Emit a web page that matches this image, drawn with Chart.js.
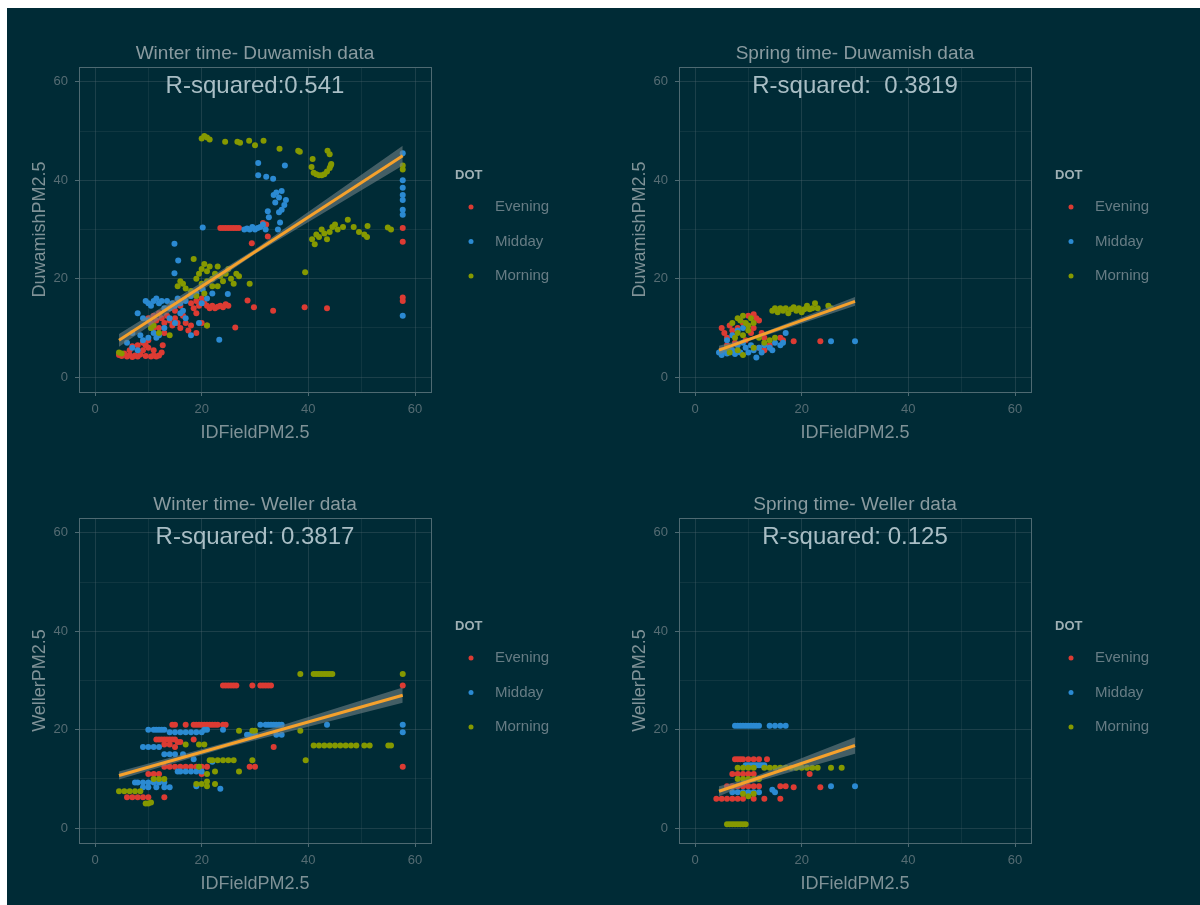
<!DOCTYPE html>
<html>
<head>
<meta charset="utf-8">
<title>IDField vs Duwamish / Weller PM2.5</title>
<script src="https://cdn.jsdelivr.net/npm/chart.js@4.4.1/dist/chart.umd.min.js"></script>
<style>
  html, body { margin: 0; padding: 0; background: #ffffff; }
  #page { position: absolute; left: 7px; top: 8px; width: 1193px; height: 897px; background: #002b36; }
  canvas { position: absolute; }
</style>
</head>
<body>
<div id="page"></div>
<canvas id="winterDuw" width="600" height="451" style="left:0px;top:0px"></canvas>
<canvas id="springDuw" width="600" height="451" style="left:600px;top:0px"></canvas>
<canvas id="winterWel" width="600" height="451" style="left:0px;top:451px"></canvas>
<canvas id="springWel" width="600" height="451" style="left:600px;top:451px"></canvas>
<script>
// ---- data ----
var groups = ['Evening', 'Midday', 'Morning'];
var axisTicks = [0, 10, 20, 30, 40, 50, 60];
var labelTicks = [0, 20, 40, 60];

// Winter time - Duwamish
var winterDuwEvening = [[23.5,30.3],[24,30.3],[24.5,30.3],[25,30.3],[25.5,30.3],[26,30.3],[26.5,30.3],[27,30.3],
  [32.1,31],[31.5,31.3],[32.4,28.6],[29.4,27.2],[57.7,30.3],[57.7,27.5],[57.7,16.2],[57.7,15.5],
  [28.6,15.6],[29.8,14.2],[33.4,13.5],[39.3,14.2],[43.5,14],
  [18,15],[18.5,14],[19,15.5],[19.5,14.5],[20,16],[20.5,15],[21,14.5],[21.5,14],[22,14.5],[22.5,14],[23,14.3],[23.5,14.5],[24,14.2],[24.5,14.8],[25,14.5],
  [26.3,10.1],[10,12],[10.5,11],[11,12.5],[11.5,11.5],[12,13],[12.5,12],[13,11],[13.5,12.5],[14,11.5],[14.5,10.5],[15,12],[15.5,11],
  [16,10],[16.5,12.5],[17,11],[17.5,9.5],[18,10.5],[13,9],[12,10],[11,10],[14,14],[15,13.5],[16,14.5],[19,13],[20,11],[21,10.5],[19,9],
  [4.5,4.5],[5,4.3],[5.5,4.8],[6,4.2],[6.5,4.5],[7,4.1],[7.5,4.4],[8,4.2],[8.5,4.6],[9,5.5],[9.5,4.3],[10,6],[10.5,4.2],[11,4.4],[11.5,4.2],
  [12,4.4],[12.5,5],[8,6.5],[9,7],[9.5,6.5],[10,7.5],[6.5,5.5],[7,6.3],[11,5.5],[12.7,6.5]];
var winterDuwMidday = [[30.6,43.5],[35.6,43],[30.6,41],[32.1,40.7],[33.4,40.3],
  [33.5,37],[34,37.5],[34.5,36.5],[35,37.8],[35.5,35],[35,34],[34.5,33.5],[33.8,35.5],[35.8,36],[32.4,33.7],[32.6,32.5],[34.7,31.4],[34.3,30],
  [28,30],[28.5,30.2],[29,30],[29.5,30.5],[30,30],[30.5,30.3],[31,30.5],[31.5,31],[32,30],[20.2,30.4],
  [57.7,45.5],[57.7,40],[57.7,38.5],[57.7,37],[57.7,36],[57.7,34],[57.7,33],[57.7,12.5],
  [14.9,27.1],[15.6,23.7],[14.9,21.1],
  [9.5,15.5],[10,15],[10.5,14.5],[11,15.5],[11.5,16],[12,15],[12.5,15.5],[13,14],[13.5,15.5],[14,14],[14.5,15],[15,14.5],[15.5,16],[16,15],
  [17,15.5],[18,16.5],[19,17],[8,13],[9,12],[10,11.5],[10.5,10],[11,9],[11.5,8],[9,7.5],[8.5,8.5],[7,9],[6,7],[10,8],[12,8.5],[13,10],
  [14,12],[15,11],[16,13],[17,12],[18,8.5],[20,15],[21,16],[22,17],[23.3,7.6],[19.5,11],[16.5,13.5],[8,5.5],[7,6],[24.9,16.9],[20.2,17.8]];
var winterDuwMorning = [[20,48.5],[20.5,49],[21,48.7],[21.5,48.3],[24.4,47.8],[26.7,47.8],[27.2,47.6],[28.9,48],[30,47.1],[31.6,48],
  [34.6,46.4],[38.1,46],[38.4,45.8],[40.8,44.3],[43.6,46],[44,45.3],[44.2,43],
  [40.6,42.7],[41,41.5],[41.5,41.2],[42,41],[42.5,41],[43,41.2],[43.5,41.8],[44,42.5],[44.3,43.3],[57.7,42.2],[57.7,43],
  [40.7,28],[41.2,27],[41.5,29],[42,28.5],[42.5,30],[43,29.2],[43.5,28],[44,29.5],[44.5,30.5],[45,31],[45.5,30],[46.5,30.5],[47.4,32],
  [48.5,30.5],[49.5,29.5],[50.5,29],[51,28.5],[51.1,30.7],[54.9,30.4],[55.5,30],[39.4,21.3],
  [15.5,18.5],[16,19.5],[16.5,19],[17,18],[18.5,24],[19,20],[19.5,21],[20,22],[20.5,23],[21,21.5],[21.5,22.5],[22,20],[22.5,21],[23,22.5],
  [23.5,20.5],[24,19.5],[24.5,21],[25,22],[25.5,20],[26,19],[26.5,21],[27,20.5],[29,19],[20,19],[21,19.5],[22,18.5],[23,18.5],[19,16.5],
  [18,17.5],[20.5,17],[21,10.5],[10.5,10],[11,10.5],[12,9],[14,8.5],[4.5,5],[5,4.8]];
var winterDuwFit = [[4.5,7.5],[57.7,45]];
var winterDuwBandHi = [[4.5,8.8],[30,26],[57.7,47]];
var winterDuwBandLo = [[4.5,6.2],[30,25],[57.7,43]];

// Spring time - Duwamish
var springDuwEvening = [[5,10],[5.5,9],[6,8],[6.5,10.5],[7,9.5],[7.5,7],[8,10],[9,11],[10,12.5],[11,12.8],[11.5,12],[12,11.5],[11,10],
  [10.5,9],[9.5,7.5],[12.5,9],[13,8],[12,6],[13,5.5],[16,8],[16.5,7.5],[18.5,7.3],[23.5,7.3],[14,6.5],[6,6.5],[5,5.5]];
var springDuwMidday = [[4.5,5],[5,4.5],[5.5,5.5],[6,4.8],[6.5,6],[7,5.5],[7.5,4.7],[8,6.5],[8.5,5],[9,7],[9.5,6],[10,5],[10.5,6.5],[11,5.5],
  [11.5,4],[12,6],[12.5,5],[13,6.5],[14,6],[14.5,5.5],[15,7],[16,6.5],[17,9],[16.5,7],[25.5,7.3],[30,7.3],[7,8.5],[8,9.5],[9,10],[6,7.5]];
var springDuwMorning = [[14.5,13.5],[15,14],[15.5,13.2],[16,14],[16.5,13.5],[17,14],[17.5,13],[18,13.8],[18.5,14.2],[19,13.5],[19.5,14],
  [20,13.2],[20.5,13.8],[21,14.5],[21.5,13.8],[22,14],[22.5,15],[23,14],[25,14.5],[25.5,14],
  [7,11],[8,12],[8.5,11.5],[9,12.5],[9.5,11],[10,10.5],[10.5,12],[11,11],[8,9],[9,8.5],[10,9.5],[7.5,8],[6,6],[6.5,5],[8,5.5],[9,4.5],
  [11,6],[13,7],[14,7.5],[15,8],[12,8]];
var springDuwFit = [[4.5,5.5],[30,15.4]];
var springDuwBandHi = [[4.5,6.4],[10,7.9],[30,16.3]];
var springDuwBandLo = [[4.5,4.6],[10,7.3],[30,14.5]];

// Winter time - Weller
var winterWelEvening = [[24,29],[24.5,29],[25,29],[25.5,29],[26,29],[26.5,29],[29.5,29],[31,29],[31.5,29],[32,29],[32.5,29],[33,29],
  [14.5,21],[15,21],[17,21],[18.5,21],[19,21],[19.5,21],[20,21],[20.5,21],[21,21],[21.5,21],[22,21],[22.5,21],[23,21],[24,21],[24.5,21],
  [11.5,18],[12,18],[12.5,18],[13,18],[13.5,18],[14,18],[14.5,18],[15,18],[15.5,17.5],[16,17.5],[13,17],[14,17],[15,16.5],[18.5,18],
  [13,12.5],[14,12.5],[15,12.5],[16,12.5],[17,12.5],[18,12.5],[19,12.5],[20,12.5],[21,12.5],[29,12.5],[30,12.5],
  [10,11],[11,11],[12,11],[20,11],[6,6.3],[7,6.3],[8,6.3],[9,6.3],[10,6.3],[13,6.3],[33.5,16.5],[57.7,29],[57.7,12.5]];
var winterWelMidday = [[31,21],[32,21],[32.5,21],[33,21],[33.5,21],[34,21],[34.5,21],[35,21],[43.5,21],[57.7,21],[57.7,19.5],
  [10,20],[11,20],[11.5,20],[12,20],[12.5,20],[13,20],[20.5,20],[21,20],[24,20],
  [14,19.5],[15,19.5],[16,19.5],[17,19.5],[18,19.5],[19,19.5],[20,19.5],[28.5,19],[29,19],[30,19],[34,19],[35,19],
  [9,16.5],[10,16.5],[11,16.5],[12,16.5],[13,15],[14,15],[15,15],[16.5,15],
  [15.5,11.5],[16,11.5],[17,11.5],[18,11.5],[19,11.5],[20,11.5],
  [7.5,9.3],[8,9.3],[9,9.3],[10,9.3],[11,9.3],[12,9.3],[13,9.3],[9,8.3],[10,8.3],[11.5,8.3],[13,8.3],[14,8.3],[19,8.5],[23.5,8],[22,13.5],[18.5,14]];
var winterWelMorning = [[38.5,31.3],[41,31.3],[41.5,31.3],[42,31.3],[42.5,31.3],[43,31.3],[43.5,31.3],[44,31.3],[44.5,31.3],[57.7,31.3],
  [41,16.8],[42,16.8],[43,16.8],[44,16.8],[45,16.8],[46,16.8],[47,16.8],[48,16.8],[49,16.8],[50.5,16.8],[51.5,16.8],[55,16.8],[55.5,16.8],
  [27,19.8],[29.5,19.8],[30,19.8],[38.5,19.8],[39.5,13.8],[17,17],[19.5,17],[20.5,17],
  [21.5,13.8],[22,13.8],[23,13.8],[24,13.8],[25,13.8],[26,13.8],[29.5,13.8],[21,11],[22.5,11.5],[27,11.5],
  [11,10],[12,10],[13,10],[19,9],[20,9],[21,9.5],[22.5,9],[21,8.5],[4.5,7.5],[5.5,7.5],[6.5,7.5],[7.5,7.5],[8.5,7.5],
  [9.5,5],[10,5],[10.5,5.2],[19.5,12.5]];
var winterWelFit = [[4.5,10.7],[57.7,27]];
var winterWelBandHi = [[4.5,11.5],[25,17.5],[57.7,28.6]];
var winterWelBandLo = [[4.5,9.9],[25,16.5],[57.7,25.5]];

// Spring time - Weller
var springWelEvening = [[7.5,14],[8,14],[8.5,14],[9,14],[10,14],[11,14],[12,14],[13.5,14],[7,11],[8,11],[9,11],[10,11],[11,11],[21.5,11],
  [6,8.5],[7,8.5],[8,8.5],[9,8.5],[10,8.5],[11,8.5],[12,8.5],[16,8.5],[17,8.5],[18.5,8.3],[23.5,8.3],
  [4,6],[5,6],[6,6],[7,6],[8,6],[9,6],[11,6],[13,6],[16,6]];
var springWelMidday = [[7.5,20.8],[8,20.8],[8.5,20.8],[9,20.8],[9.5,20.8],[10,20.8],[10.5,20.8],[11,20.8],[11.5,20.8],[12,20.8],[14,20.8],
  [15,20.8],[16,20.8],[17,20.8],[9.5,12.8],[10,12.8],[10.5,12.8],[11,12.8],[11.5,12.8],[12,12.8],[12.5,12.8],[13,12.8],
  [7,7.3],[8,7.3],[9,7.3],[10,7.3],[11,7.3],[12,7.3],[14.5,7.8],[15,7.3],[25.5,8.5],[30,8.5]];
var springWelMorning = [[8,12.3],[9,12.3],[10,12.3],[11,12.3],[13,12.3],[14,12.3],[15,12.3],[16,12.3],[17,12.3],[18,12.3],[19,12.3],
  [20,12.3],[21,12.3],[22,12.3],[23,12.3],[25.5,12.3],[27.5,12.3],[8,10],[9,10],[10,10],[11,10],[12,10],
  [6,0.8],[6.5,0.8],[7,0.8],[7.5,0.8],[8,0.8],[8.5,0.8],[9,0.8],[9.5,0.8],[9,7],[10,6.5],[11,7]];
var springWelFit = [[4.5,7.5],[30,16.8]];
var springWelBandHi = [[4.5,8.5],[10,10],[30,18.5]];
var springWelBandLo = [[4.5,6.5],[10,9],[30,15.1]];

// ---- styling / helpers ----
var FONT = '"Liberation Sans", Arial, Helvetica, sans-serif';
var colors = { Evening: '#dc3b33', Midday: '#2b8ad2', Morning: '#859900' };
Chart.defaults.font.family = FONT;

function pts(arr) {
  return arr.map(function (p) { return { x: p[0], y: p[1] }; });
}

// panel frame + R-squared label
var panelDecor = {
  id: 'panelDecor',
  afterDraw: function (chart, args, opts) {
    var ctx = chart.ctx, a = chart.chartArea;
    ctx.save();
    ctx.strokeStyle = '#4e6a72';
    ctx.lineWidth = 1;
    ctx.strokeRect(Math.round(a.left) + 0.5, Math.round(a.top) + 0.5, Math.round(a.right - a.left), Math.round(a.bottom - a.top));
    ctx.font = '24px ' + FONT;
    ctx.fillStyle = '#a9bec5';
    ctx.textAlign = 'center';
    ctx.textBaseline = 'middle';
    ctx.fillText(opts.text, chart.scales.x.getPixelForValue(30), chart.scales.y.getPixelForValue(59));
    ctx.restore();
  }
};

// "DOT" legend on the right
var dotLegend = {
  id: 'dotLegend',
  afterDraw: function (chart) {
    var ctx = chart.ctx, a = chart.chartArea;
    var x0 = a.right + 24;
    var cy = (a.top + a.bottom) / 2;
    var offs = [-22.5, 12, 46.5];
    ctx.save();
    ctx.textAlign = 'left';
    ctx.textBaseline = 'middle';
    ctx.font = 'bold 13px ' + FONT;
    ctx.fillStyle = '#9fb0b4';
    ctx.fillText('DOT', x0, cy - 54);
    ctx.font = '15px ' + FONT;
    chart.data.datasets.filter(function (d) { return d.isGroup; }).forEach(function (d, i) {
      var y = cy + offs[i];
      ctx.fillStyle = d.backgroundColor;
      ctx.beginPath();
      ctx.arc(x0 + 16, y, 2.5, 0, Math.PI * 2);
      ctx.fill();
      ctx.fillStyle = '#667c84';
      ctx.fillText(d.label, x0 + 40, y);
    });
    ctx.restore();
  }
};

function axis(titleText, isX) {
  return {
    type: 'linear',
    min: -3,
    max: 63,
    afterBuildTicks: function (s) { s.ticks = axisTicks.map(function (v) { return { value: v }; }); },
    afterFit: function (s) { if (isX) { s.height = 59; } else { s.width = 79; } },
    border: { display: false },
    grid: {
      color: function (c) { return labelTicks.indexOf(c.tick.value) >= 0 ? 'rgba(88,110,117,0.32)' : 'rgba(88,110,117,0.18)'; },
      tickColor: function (c) { return labelTicks.indexOf(c.tick.value) >= 0 ? '#4e6a72' : 'rgba(0,0,0,0)'; },
      tickLength: 4
    },
    ticks: {
      padding: isX ? 6 : 7,
      color: '#556c73',
      font: { size: 13 },
      callback: function (v) { return labelTicks.indexOf(v) >= 0 ? String(v) : ''; }
    },
    title: {
      display: true,
      text: titleText,
      color: '#7f9297',
      font: { size: 18 },
      padding: isX ? { top: 0, bottom: 7.2 } : { top: 29.2, bottom: 0 }
    }
  };
}

function makePanel(id, title, yTitle, rsq, ev, mid, mor, fit, hi, lo) {
  var series = [ev, mid, mor];
  var ds = groups.map(function (g, i) {
    return {
      label: g,
      isGroup: true,
      data: pts(series[i]),
      backgroundColor: colors[g],
      borderWidth: 0,
      pointRadius: 3,
      order: 4 - i
    };
  });
  ds.push({ type: 'line', label: 'band hi', data: pts(hi), borderWidth: 0, pointRadius: 0, fill: false, order: 1 });
  ds.push({ type: 'line', label: 'band lo', data: pts(lo), borderWidth: 0, pointRadius: 0,
    fill: '-1', backgroundColor: 'rgba(112,128,133,0.6)', order: 1 });
  ds.push({ type: 'line', label: 'fit', data: pts(fit), borderColor: '#f5a12c', borderWidth: 3, pointRadius: 0, fill: false, order: 0 });

  new Chart(document.getElementById(id), {
    type: 'scatter',
    data: { datasets: ds },
    options: {
      responsive: false,
      animation: false,
      events: [],
      layout: { padding: { left: 0, top: 0, right: 169, bottom: 0 } },
      scales: { x: axis('IDFieldPM2.5', true), y: axis(yTitle, false) },
      plugins: {
        legend: { display: false },
        tooltip: { enabled: false },
        title: {
          display: true,
          text: title,
          fullSize: false,
          color: '#8a9ba0',
          font: { size: 19, weight: 'normal' },
          padding: { top: 42, bottom: 2.2 }
        },
        panelDecor: { text: rsq }
      }
    },
    plugins: [panelDecor, dotLegend]
  });
}

makePanel('winterDuw', 'Winter time- Duwamish data', 'DuwamishPM2.5', 'R-squared:0.541',
  winterDuwEvening, winterDuwMidday, winterDuwMorning, winterDuwFit, winterDuwBandHi, winterDuwBandLo);
makePanel('springDuw', 'Spring time- Duwamish data', 'DuwamishPM2.5', 'R-squared:  0.3819',
  springDuwEvening, springDuwMidday, springDuwMorning, springDuwFit, springDuwBandHi, springDuwBandLo);
makePanel('winterWel', 'Winter time- Weller data', 'WellerPM2.5', 'R-squared: 0.3817',
  winterWelEvening, winterWelMidday, winterWelMorning, winterWelFit, winterWelBandHi, winterWelBandLo);
makePanel('springWel', 'Spring time- Weller data', 'WellerPM2.5', 'R-squared: 0.125',
  springWelEvening, springWelMidday, springWelMorning, springWelFit, springWelBandHi, springWelBandLo);
</script>
</body>
</html>
